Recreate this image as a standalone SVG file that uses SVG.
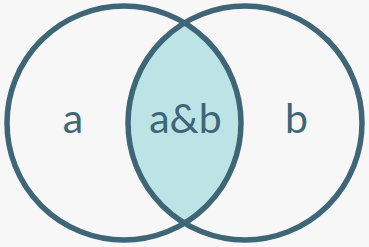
<svg xmlns="http://www.w3.org/2000/svg" width="369" height="247" viewBox="0 0 369 247">
  <style>
    .set { fill: none; stroke: #3e6677; stroke-width: 5.5; }
    .lens { fill: #bce3e5; stroke: none; }
    .label { font-family: Lato, "Open Sans", sans-serif; font-size: 41px; fill: #3e6677; text-anchor: middle; }
  </style>
  <defs>
    <clipPath id="clip-a">
      <circle cx="124" cy="123" r="117"/>
    </clipPath>
  </defs>
  <rect width="369" height="247" fill="#f7f7f7"/>

  <!-- overlap of the two sets -->
  <g id="intersection">
    <circle class="lens" cx="245" cy="123" r="117" clip-path="url(#clip-a)"/>
    <text class="label" x="185.5" y="133">a&amp;b</text>
  </g>

  <g id="set-a">
    <circle class="set" cx="124" cy="123" r="117"/>
    <text class="label" x="73" y="133">a</text>
  </g>

  <g id="set-b">
    <circle class="set" cx="245" cy="123" r="117"/>
    <text class="label" x="296.5" y="133">b</text>
  </g>

  <g id="connectors"/>
</svg>
